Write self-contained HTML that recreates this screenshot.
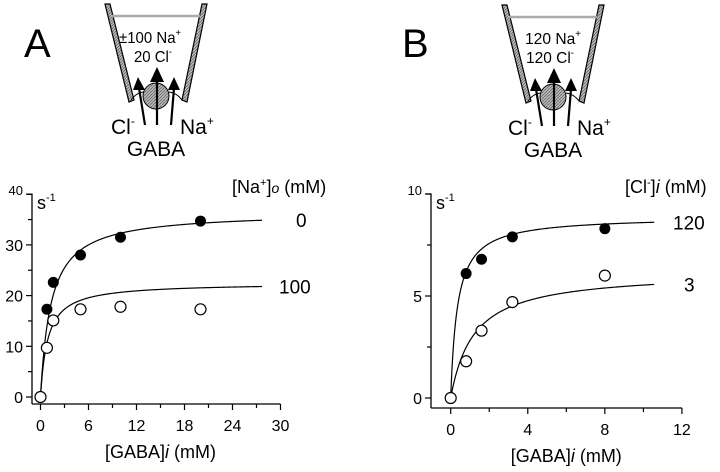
<!DOCTYPE html>
<html><head><meta charset="utf-8"><style>
body{margin:0;background:#fff}
svg{display:block;font-family:"Liberation Sans",Arial,sans-serif}
</style></head><body>
<svg id="fig" width="720" height="472" viewBox="0 0 720 472">
<defs>
<pattern id="hatch" width="3" height="3" patternUnits="userSpaceOnUse"><rect width="3" height="3" fill="#bbb"/><path d="M0,3 L3,0" stroke="#666" stroke-width="0.8"/></pattern>
<g id="pipette">
<path d="M105,4 L110,4 L134,100 L129,102 z" fill="url(#hatch)" stroke="#000" stroke-width="1.2"/>
<path d="M202,4 L207,4 L187,102 L182,100 z" fill="url(#hatch)" stroke="#000" stroke-width="1.2"/>
<line x1="112" y1="16" x2="200" y2="16" stroke="#aaa" stroke-width="2.5"/>
<circle cx="156" cy="96" r="13" fill="url(#hatch)" stroke="#000" stroke-width="1"/>
<path d="M131,100 Q136,93 143,92" fill="none" stroke="#000" stroke-width="1"/>
<path d="M169,92 Q177,93 182,100" fill="none" stroke="#000" stroke-width="1"/>
<line x1="145" y1="125" x2="139" y2="88" stroke="#000" stroke-width="2.2"/>
<path d="M133,90 L138,77 L145,90 z" fill="#000"/>
<line x1="157" y1="125" x2="157" y2="80" stroke="#000" stroke-width="2.2"/>
<path d="M150,82 L157,67 L164,82 z" fill="#000"/>
<line x1="171" y1="125" x2="174" y2="88" stroke="#000" stroke-width="2.2"/>
<path d="M168,90 L174,77 L180,90 z" fill="#000"/>
</g>
</defs>

<g>
<use href="#pipette"/>
<text x="119" y="43" font-size="16" textLength="62" lengthAdjust="spacingAndGlyphs">±100 Na<tspan font-size="10" dy="-7">+</tspan></text>
<text x="134" y="62" font-size="16" textLength="38" lengthAdjust="spacingAndGlyphs">20 Cl<tspan font-size="10" dy="-7">-</tspan></text>
<text x="111" y="134" font-size="21">Cl<tspan font-size="12" dy="-9">-</tspan></text>
<text x="180" y="134" font-size="21">Na<tspan font-size="12" dy="-9">+</tspan></text>
<text x="156" y="156" font-size="21" text-anchor="middle">GABA</text>
<text x="24" y="57" font-size="40">A</text>
</g>
<g>
<use href="#pipette" transform="translate(397,1)"/>
<text x="525" y="44" font-size="16" textLength="56" lengthAdjust="spacingAndGlyphs">120 Na<tspan font-size="10" dy="-7">+</tspan></text>
<text x="526" y="63" font-size="16" textLength="48" lengthAdjust="spacingAndGlyphs">120 Cl<tspan font-size="10" dy="-7">-</tspan></text>
<text x="508" y="135" font-size="21">Cl<tspan font-size="12" dy="-9">-</tspan></text>
<text x="577" y="135" font-size="21">Na<tspan font-size="12" dy="-9">+</tspan></text>
<text x="553" y="157" font-size="21" text-anchor="middle">GABA</text>
<text x="402" y="57" font-size="40">B</text>
</g>
<g id="charts"></g>
</svg>
<script>
// Panel A data
const aX = [0, 0.8, 1.6, 5, 10, 20];
const aFilledX = [0.8, 1.6, 5, 10, 20];
const aFilledY = [17.3, 22.6, 28, 31.5, 34.7];
const aOpenY = [0, 9.7, 15.1, 17.3, 17.8, 17.3];
const aFitFilled = [36.5, 1.3];
const aFitOpen = [22.5, 0.9];
const aXTicks = [0, 6, 12, 18, 24, 30];
const aYTicks = [0, 10, 20, 30, 40];
// Panel B data
const bFilledX = [0.8, 1.6, 3.2, 8];
const bFilledY = [6.1, 6.8, 7.9, 8.3];
const bOpenX = [0, 0.8, 1.6, 3.2, 8];
const bOpenY = [0, 1.8, 3.3, 4.7, 6.0];
const bFitFilled = [8.9, 0.35];
const bFitOpen = [6.2, 1.2];
const bXTicks = [0, 4, 8, 12];
const bYTicks = [0, 5, 10];

const NS = "http://www.w3.org/2000/svg";
const root = document.getElementById('charts');
function mk(tag, attrs, parent, txt){
  const e = document.createElementNS(NS, tag);
  for (const k in attrs) e.setAttribute(k, attrs[k]);
  if (txt !== undefined) e.textContent = txt;
  (parent || root).appendChild(e);
  return e;
}
function panel(cfg){
  const g = mk('g', {});
  
  
  const sx = v => cfg.x0 + (v - cfg.xmin) * cfg.xs;
  const sy = v => cfg.y0 - v * cfg.ys;
  const xa = mk('path', {d:`M${cfg.axX},${cfg.axY} L${sx(cfg.xmax)},${cfg.axY}`, stroke:'#000', 'stroke-width':1.3, fill:'none'}, g);
  
  
  const ya = mk('path', {d:`M${cfg.axX},${cfg.axY} L${cfg.axX},${sy(cfg.ymax)} L${cfg.axX-5},${sy(cfg.ymax)}`, stroke:'#000', 'stroke-width':1.3, fill:'none'}, g);
  
  
  cfg.xTicks.forEach((t, i) => {
    mk('line', {x1:sx(t), x2:sx(t), y1:cfg.axY, y2:cfg.axY+6, stroke:'#000','stroke-width':1.2}, g);
    if (i < cfg.xTicks.length-1) { const m=(t+cfg.xTicks[i+1])/2; mk('line',{x1:sx(m),x2:sx(m),y1:cfg.axY,y2:cfg.axY+4,stroke:'#000','stroke-width':1.2},g); }
    const l = mk('text', {x:sx(t), y:cfg.axY+27, 'font-size':16, 'text-anchor':'middle'}, g, String(t));
    
    
  });
  cfg.yTicks.forEach((t, i) => {
    mk('line', {x1:cfg.axX-6, x2:cfg.axX, y1:sy(t), y2:sy(t), stroke:'#000','stroke-width':1.2}, g);
    if (i < cfg.yTicks.length-1) { const m=(t+cfg.yTicks[i+1])/2; mk('line',{x1:cfg.axX-4,x2:cfg.axX,y1:sy(m),y2:sy(m),stroke:'#000','stroke-width':1.2},g); }
    const last = i === cfg.yTicks.length-1;
    const l = mk('text', {x:cfg.axX-9, y:sy(t)+(last?1:6), 'font-size':last?13:16, 'text-anchor':'end'}, g, String(t));
    
    
  });
  const u = mk('text', {x:cfg.axX+5, y:sy(cfg.ymax)+15, 'font-size':18}, g);
  
  
  u.innerHTML = 's<tspan font-size="11" dy="-8">-1</tspan>';
  const xt = mk('text', {x:(sx(cfg.xTicks[0])+sx(cfg.xmax))/2, y:cfg.axY+54, 'font-size':18, 'text-anchor':'middle'}, g);
  
  
  xt.innerHTML = '[GABA]<tspan font-style="italic">i</tspan> (mM)';
  [[cfg.fitF,'fit-curve-filled'],[cfg.fitO,'fit-curve-open']].forEach(([p,n]) => {
    let d = '';
    for (let k = 0; k <= 300; k++) { const x = cfg.fitEnd * Math.pow(k/300, 2); const y = p[0]*x/(p[1]+x); d += (k?'L':'M') + sx(x).toFixed(2) + ',' + sy(y).toFixed(2); }
    const c = mk('path', {d, fill:'none', stroke:'#000', 'stroke-width':1.2}, g);
    
    
  });
  cfg.oX.forEach((x, i) => {
    const c = mk('circle', {cx:sx(x), cy:sy(cfg.oY[i]), r:5.5, fill:'#fff', stroke:'#000', 'stroke-width':1.2}, g);
    
    
  });
  cfg.fX.forEach((x, i) => {
    const c = mk('circle', {cx:sx(x), cy:sy(cfg.fY[i]), r:5.5, fill:'#000'}, g);
    
    
  });
  const lt = mk('text', {x:cfg.legX, y:193, 'font-size':18}, g);
  
  
  lt.innerHTML = cfg.legTitle;
  const l1 = mk('text', {x:cfg.lab1X, y:sy(cfg.fitF[0]*cfg.fitEnd/(cfg.fitF[1]+cfg.fitEnd))+7, 'font-size':19}, g, cfg.lab1);
  
  
  const l2 = mk('text', {x:cfg.lab2X, y:sy(cfg.fitO[0]*cfg.fitEnd/(cfg.fitO[1]+cfg.fitEnd))+7, 'font-size':19}, g, cfg.lab2);
  
  
}
panel({name:'chart-a', x0:40.5, xmin:0, xs:8.0, y0:397, ys:5.07, axX:32, axY:404, xmax:30, ymax:40,
  xTicks:aXTicks, yTicks:aYTicks, fitF:aFitFilled, fitO:aFitOpen, fitEnd:27.7,
  fX:aFilledX, fY:aFilledY, oX:aX, oY:aOpenY,
  legX:232, legTitle:'[Na<tspan font-size="11" dy="-7">+</tspan><tspan dy="7">]</tspan><tspan font-style="italic" font-size="14">o</tspan> (mM)',
  lab1:'0', lab1X:296, lab2:'100', lab2X:279});
panel({name:'chart-b', x0:450.7, xmin:0, xs:19.27, y0:398, ys:20.4, axX:431, axY:408, xmax:12, ymax:10,
  xTicks:bXTicks, yTicks:bYTicks, fitF:bFitFilled, fitO:bFitOpen, fitEnd:10.56,
  fX:bFilledX, fY:bFilledY, oX:bOpenX, oY:bOpenY,
  legX:625, legTitle:'[Cl<tspan font-size="11" dy="-7">-</tspan><tspan dy="7">]</tspan><tspan font-style="italic">i</tspan> (mM)',
  lab1:'120', lab1X:673, lab2:'3', lab2X:684});
</script>
</body></html>
